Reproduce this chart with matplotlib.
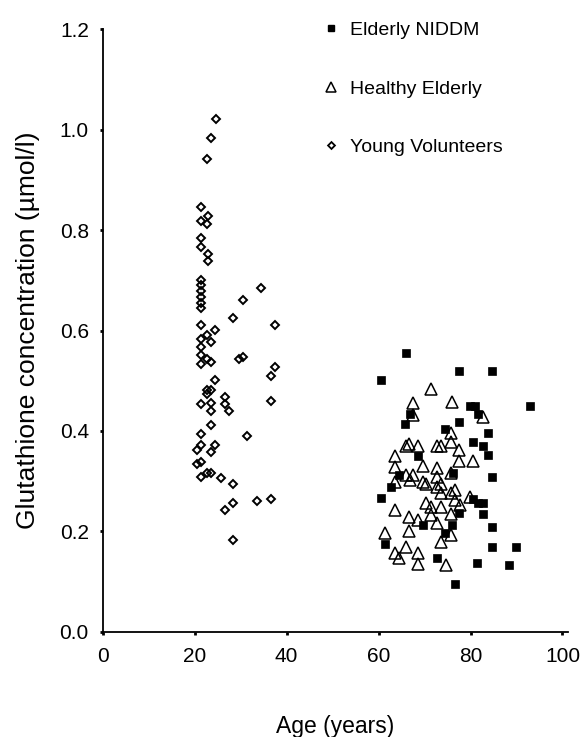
import matplotlib

matplotlib.use("Agg")
import matplotlib.pyplot as plt
from matplotlib.lines import Line2D

plt.rcParams["font.family"] = ["Liberation Sans", "DejaVu Sans"]

# ---------------------------------------------------------------------------
# Data
# ---------------------------------------------------------------------------

young_age = [
    24.6, 23.5, 22.7, 21.4, 22.9, 21.4, 22.7, 21.4, 21.4, 22.9, 22.9,
    21.4, 21.4, 21.4, 21.4, 21.4, 21.4, 34.4, 30.6, 28.4, 37.5, 21.4,
    24.4, 22.7, 21.4, 23.5, 21.4, 21.4, 22.7, 23.5, 21.4, 29.7, 30.6,
    37.5, 36.6, 24.4, 22.7, 22.7, 23.5, 21.4, 23.5, 26.6, 26.6, 27.5,
    36.6, 23.5, 23.5, 31.3, 21.4, 21.4, 20.4, 24.4, 23.5, 21.4, 20.4,
    22.7, 23.5, 21.4, 25.7, 28.4, 33.5, 36.6, 28.4, 26.6, 28.4,
]
young_gsh = [
    1.021, 0.984, 0.942, 0.847, 0.829, 0.819, 0.812, 0.784, 0.767, 0.752, 0.739,
    0.701, 0.690, 0.679, 0.667, 0.655, 0.645, 0.684, 0.660, 0.625, 0.611, 0.611,
    0.601, 0.592, 0.583, 0.578, 0.568, 0.551, 0.543, 0.538, 0.533, 0.543, 0.547,
    0.528, 0.509, 0.501, 0.482, 0.473, 0.482, 0.454, 0.455, 0.468, 0.454, 0.440,
    0.460, 0.440, 0.412, 0.390, 0.394, 0.372, 0.362, 0.372, 0.357, 0.339, 0.334,
    0.317, 0.317, 0.308, 0.307, 0.294, 0.261, 0.265, 0.257, 0.242, 0.183,
]

healthy_age = [
    71.4, 75.9, 67.5, 67.5, 82.7, 75.7, 65.9, 66.7, 68.5, 72.6, 73.5,
    75.7, 77.5, 63.5, 77.5, 80.6, 69.7, 63.5, 72.6, 67.5, 65.9, 72.6,
    75.7, 63.5, 66.8, 69.7, 70.4, 73.5, 72.6, 76.6, 73.5, 75.7, 79.8,
    76.6, 70.4, 71.4, 77.7, 73.5, 63.5, 75.7, 66.7, 71.4, 68.5, 72.6,
    61.4, 66.7, 75.7, 73.5, 65.9, 63.5, 64.5, 68.5, 68.5, 74.6,
]
healthy_gsh = [
    0.483, 0.458, 0.456, 0.432, 0.427, 0.395, 0.370, 0.374, 0.369, 0.369, 0.369,
    0.377, 0.361, 0.350, 0.341, 0.341, 0.330, 0.328, 0.327, 0.312, 0.312, 0.309,
    0.316, 0.299, 0.302, 0.299, 0.294, 0.294, 0.289, 0.282, 0.276, 0.276, 0.269,
    0.262, 0.257, 0.249, 0.252, 0.249, 0.242, 0.235, 0.229, 0.232, 0.223, 0.216,
    0.197, 0.201, 0.193, 0.179, 0.168, 0.156, 0.146, 0.156, 0.135, 0.133,
]

niddm_age = [
    65.9, 77.5, 84.6, 60.6, 79.8, 80.9, 92.9, 81.7, 66.8, 77.5, 65.7,
    83.7, 74.5, 80.6, 82.7, 83.7, 68.5, 76.2, 64.5, 62.7, 84.6, 60.6,
    80.6, 82.7, 81.7, 82.7, 77.5, 69.7, 75.9, 84.6, 74.4, 61.4, 84.6,
    89.8, 72.6, 81.3, 88.4, 76.6,
]
niddm_gsh = [
    0.556, 0.519, 0.519, 0.501, 0.450, 0.450, 0.450, 0.434, 0.434, 0.418, 0.413,
    0.395, 0.404, 0.377, 0.369, 0.352, 0.349, 0.316, 0.312, 0.289, 0.308, 0.266,
    0.264, 0.256, 0.256, 0.235, 0.236, 0.213, 0.213, 0.209, 0.196, 0.175, 0.168,
    0.168, 0.146, 0.136, 0.132, 0.094,
]

x_ticks = [0, 20, 40, 60, 80, 100]
y_ticks = [0.0, 0.2, 0.4, 0.6, 0.8, 1.0, 1.2]

# ---------------------------------------------------------------------------
# Figure
# ---------------------------------------------------------------------------

fig = plt.figure(figsize=(5.86, 7.37), dpi=100)
ax = fig.add_axes([0.1753, 0.1429, 0.794, 0.8173])

ax.plot(young_age, young_gsh, linestyle="none", marker="D", markersize=4.1,
        markerfacecolor="none", markeredgecolor="black", markeredgewidth=1.4)
ax.plot(niddm_age, niddm_gsh, linestyle="none", marker="s", markersize=5.5,
        markerfacecolor="black", markeredgecolor="black", markeredgewidth=0.5)
ax.plot(healthy_age, healthy_gsh, linestyle="none", marker="^", markersize=8.5,
        markerfacecolor="none", markeredgecolor="black", markeredgewidth=1.1)

ax.set_xlim(0, 101.2)
ax.set_ylim(0, 1.2)
ax.set_xticks(x_ticks)
ax.set_xticklabels([str(t) for t in x_ticks])
ax.set_yticks(y_ticks)
ax.set_yticklabels([f"{t:.1f}" for t in y_ticks])

for side in ("top", "right"):
    ax.spines[side].set_visible(False)
for side in ("left", "bottom"):
    ax.spines[side].set_linewidth(1.3)

ax.tick_params(axis="x", direction="out", length=2, width=2, pad=9, labelsize=15)
ax.tick_params(axis="y", direction="out", length=2, width=2, pad=8, labelsize=15)

ax.set_ylabel("Glutathione concentration (\u00b5mol/l)", fontsize=19, labelpad=14)
ax.set_xlabel("Age (years)", fontsize=16.5, labelpad=35)

handles = [
    Line2D([], [], linestyle="none", marker="s", markersize=4.5,
           markerfacecolor="black", markeredgecolor="black"),
    Line2D([], [], linestyle="none", marker="^", markersize=7.5,
           markerfacecolor="none", markeredgecolor="black", markeredgewidth=1.1),
    Line2D([], [], linestyle="none", marker="D", markersize=3.5,
           markerfacecolor="none", markeredgecolor="black", markeredgewidth=1.3),
]
labels = ["Elderly NIDDM", "Healthy Elderly", "Young Volunteers"]
ax.legend(handles, labels, loc="upper left", bbox_to_anchor=(0.47, 1.013),
          frameon=False, fontsize=14, handlelength=1.0, handletextpad=0.48,
          borderpad=0, borderaxespad=0, labelspacing=2.1)

fig.savefig("out.png", dpi=100)
